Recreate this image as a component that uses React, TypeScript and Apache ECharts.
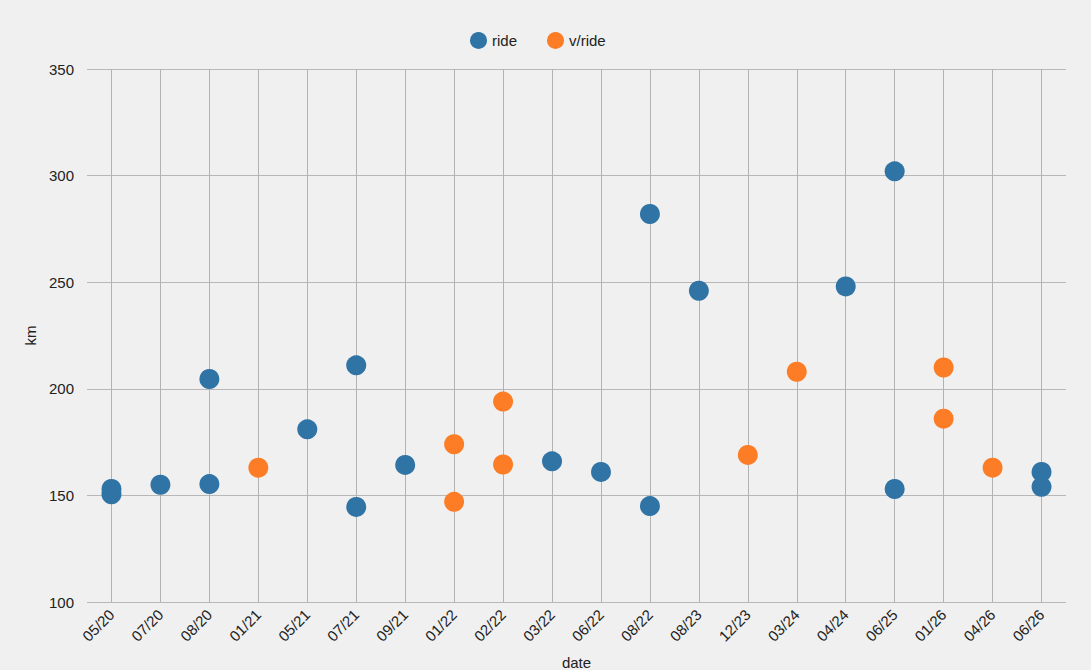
import React, { useEffect, useRef } from "react";
import * as echarts from "echarts";

const categories = ["05/20", "07/20", "08/20", "01/21", "05/21", "07/21", "09/21", "01/22", "02/22", "03/22", "06/22", "08/22", "08/23", "12/23", "03/24", "04/24", "06/25", "01/26", "04/26", "06/26"];

const rideData: [string, number][] = [
  ["05/20", 153], ["05/20", 150.5],
  ["07/20", 155],
  ["08/20", 204.6], ["08/20", 155.3],
  ["05/21", 181],
  ["07/21", 211], ["07/21", 144.6],
  ["09/21", 164.3],
  ["03/22", 166],
  ["06/22", 161],
  ["08/22", 282], ["08/22", 145],
  ["08/23", 246],
  ["04/24", 248],
  ["06/25", 302], ["06/25", 153],
  ["06/26", 161], ["06/26", 154],
];

const vrideData: [string, number][] = [
  ["01/21", 163],
  ["01/22", 174], ["01/22", 147],
  ["02/22", 194], ["02/22", 164.5],
  ["12/23", 169],
  ["03/24", 208],
  ["01/26", 210], ["01/26", 186],
  ["04/26", 163],
];

const yTicks = { min: 100, max: 350, interval: 50 };

const FONT = "Liberation Sans, Arial, sans-serif";

export default function App() {
  const ref = useRef<HTMLDivElement>(null);
  useEffect(() => {
    if (!ref.current) return;
    const chart = echarts.init(ref.current, undefined, { renderer: "svg" });
    chart.setOption({
      animation: false,
      backgroundColor: "#f0f0f0",
      textStyle: { fontFamily: FONT },
      legend: {
        left: 465,
        top: 27,
        itemWidth: 17,
        itemHeight: 17,
        itemGap: 30,
        icon: "circle",
        textStyle: { fontSize: 15, color: "#222", fontFamily: FONT },
        data: ["ride", "v/ride"],
      },
      grid: { left: 87, right: 25, top: 69, bottom: 68, containLabel: false, outerBoundsMode: "none" },
      xAxis: {
        type: "category",
        data: categories,
        boundaryGap: true,
        name: "date",
        nameLocation: "middle",
        nameGap: 53,
        nameMoveOverlap: false,
        nameTextStyle: { fontSize: 15, color: "#222", fontFamily: FONT },
        axisLine: { show: false },
        axisTick: { show: false, alignWithLabel: true },
        axisLabel: { rotate: 45, fontSize: 15, color: "#222", margin: 10, interval: 0, fontFamily: FONT },
        splitLine: { show: true, interval: 0, alignWithLabel: true, lineStyle: { color: "#b2b2b2", width: 1 } },
      },
      yAxis: {
        type: "value",
        min: yTicks.min,
        max: yTicks.max,
        interval: yTicks.interval,
        name: "km",
        nameLocation: "middle",
        nameGap: 49,
        nameRotate: 90,
        nameMoveOverlap: false,
        nameTextStyle: { fontSize: 15, color: "#222", fontFamily: FONT },
        axisLine: { show: false },
        axisTick: { show: false },
        axisLabel: { fontSize: 15, color: "#222", margin: 13, fontFamily: FONT },
        splitLine: { show: true, lineStyle: { color: "#b8b8b8", width: 1 } },
      },
      series: [
        {
          name: "ride",
          type: "scatter",
          data: rideData,
          symbolSize: 20,
          itemStyle: { color: "#3074a6", opacity: 1 },
        },
        {
          name: "v/ride",
          type: "scatter",
          data: vrideData,
          symbolSize: 20,
          itemStyle: { color: "#fc7d26", opacity: 1 },
        },
      ],
    });
    return () => chart.dispose();
  }, []);
  return <div ref={ref} style={{ position: "fixed", left: 0, top: 0, width: 1091, height: 670 }} />;
}
